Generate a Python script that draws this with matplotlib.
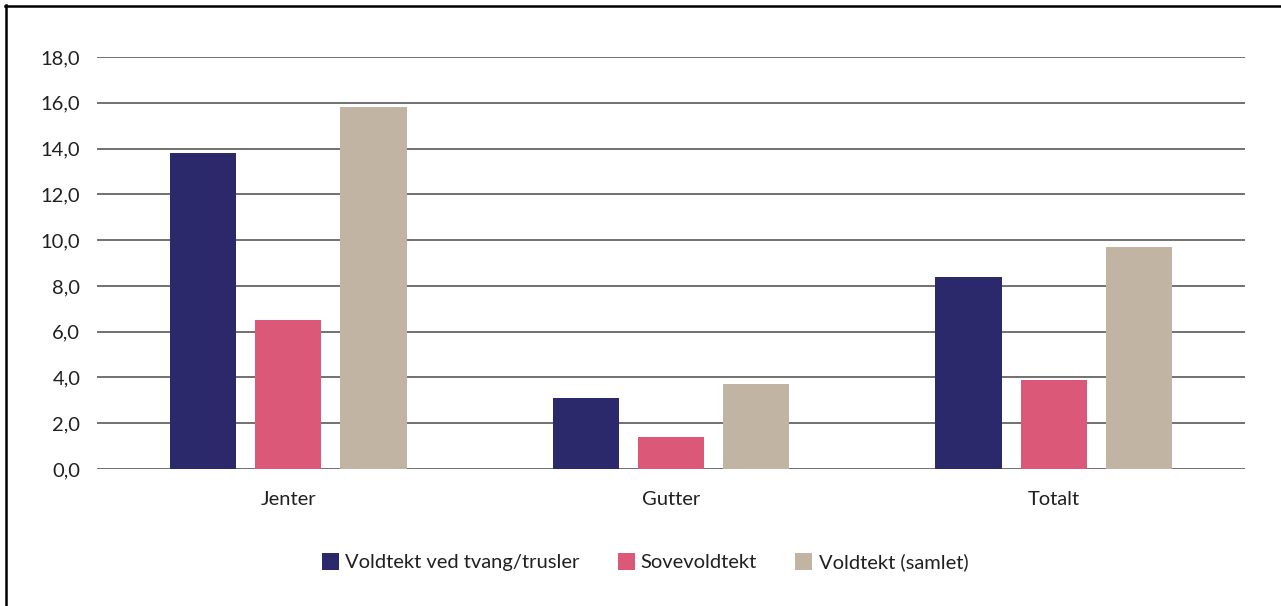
import numpy as np
import matplotlib.pyplot as plt
from matplotlib.lines import Line2D

categories = ['Jenter', 'Gutter', 'Totalt']
series_names = ['Voldtekt ved tvang/trusler', 'Sovevoldtekt', 'Voldtekt (samlet)']
tvang = [13.8, 3.1, 8.4]
sove = [6.5, 1.4, 3.9]
samlet = [15.8, 3.7, 9.7]
y_ticks = [0, 2, 4, 6, 8, 10, 12, 14, 16, 18]

colors = ['#2B296B', '#DB5878', '#C2B4A3']
text_color = '#231F20'

plt.rcParams['font.family'] = ['Lato', 'DejaVu Sans']

fig = plt.figure(figsize=(12.81, 6.06), dpi=100)
ax = fig.add_axes([97 / 1281, 1 - 469 / 606, (1245 - 97) / 1281, (469 - 57) / 606])

x = np.arange(len(categories))
width = 0.173
offset = 0.2225
for i, (vals, name) in enumerate(zip([tvang, sove, samlet], series_names)):
    ax.bar(x + (i - 1) * offset, vals, width, color=colors[i], label=name, zorder=3)

ax.set_xlim(-0.5, 2.5)
ax.set_ylim(0, 18)
ax.set_yticks(y_ticks)
ax.set_yticklabels([f'{v:.1f}'.replace('.', ',') for v in y_ticks])
ax.set_xticks(x)
ax.set_xticklabels(categories)
ax.tick_params(axis='y', length=0, pad=12, labelsize=14.5, labelcolor=text_color)
ax.tick_params(axis='x', length=0, pad=16, labelsize=14.5, labelcolor=text_color)
ax.grid(axis='y', color='#4a4a4a', linewidth=1.1, zorder=0)
for s in ax.spines.values():
    s.set_visible(False)

fig.legend(loc='center', bbox_to_anchor=(645 / 1281, 1 - 562 / 606), ncol=3,
           frameon=False, fontsize=14.5, handlelength=0.85, handleheight=0.9,
           handletextpad=0.3, columnspacing=1.9, labelcolor=text_color)

# ramme oppe og til venstre
fig.add_artist(Line2D([5.5 / 1281, 5.5 / 1281], [0, 1 - 5 / 606], color='black', linewidth=1.8))
fig.add_artist(Line2D([5 / 1281, 1], [1 - 5.5 / 606, 1 - 5.5 / 606], color='black', linewidth=1.8))

fig.savefig('out.png', dpi=100)
